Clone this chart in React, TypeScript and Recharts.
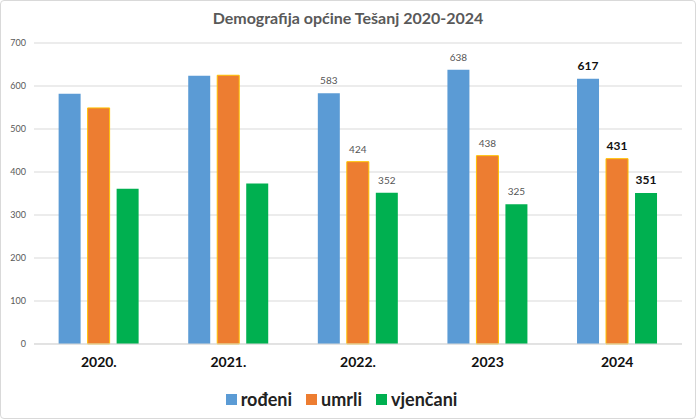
import React from "react";
import {
  BarChart,
  Bar,
  XAxis,
  YAxis,
  CartesianGrid,
  Legend,
  LabelList,
} from "recharts";

const years = ["2020.", "2021.", "2022.", "2023", "2024"];
const rodeni = [582, 624, 583, 638, 617];
const umrli = [549, 625, 424, 438, 431];
const vjencani = [361, 373, 352, 325, 351];
const yTicks = [0, 100, 200, 300, 400, 500, 600, 700];

const data = years.map((y, i) => ({
  year: y,
  rodeni: rodeni[i],
  umrli: umrli[i],
  vjencani: vjencani[i],
}));

const FONT = "Lato, 'Open Sans', sans-serif";

const renderLabel = (props: any) => {
  const { x, y, width, value, index } = props;
  if (index < 2) return null;
  const bold = index === 4;
  return (
    <text
      x={x + width / 2}
      y={y}
      dy={-9}
      textAnchor="middle"
      fontFamily={FONT}
      fontSize={bold ? 12 : 10}
      fontWeight={bold ? 700 : 400}
      fill={bold ? "#111" : "#555"}
    >
      {value}
    </text>
  );
};

const legendItems = [
  { name: "rođeni", color: "#5B9BD5" },
  { name: "umrli", color: "#ED7D31" },
  { name: "vjenčani", color: "#00B050" },
];

const renderLegend = () => (
  <div
    style={{
      display: "flex",
      justifyContent: "center",
      alignItems: "center",
      height: 24,
      fontFamily: FONT,
      fontWeight: 700,
      fontSize: 18,
      color: "#222",
    }}
  >
    {legendItems.map((it) => (
      <span
        key={it.name}
        style={{ display: "flex", alignItems: "center", margin: "0 7px" }}
      >
        <span
          style={{
            width: 11,
            height: 11,
            background: it.color,
            marginRight: 4,
            display: "inline-block",
          }}
        />
        {it.name}
      </span>
    ))}
  </div>
);

const App: React.FC = () => {
  return (
    <div
      style={{
        position: "absolute",
        left: 0,
        top: 0,
        width: 696,
        height: 419,
        background: "#fff",
        boxSizing: "border-box",
        border: "1px solid #d9d9d9",
        borderRadius: 4,
      }}
    >
      <div
        style={{
          position: "absolute",
          top: 7,
          width: "100%",
          textAlign: "center",
          fontFamily: FONT,
          fontWeight: 700,
          fontSize: 16,
          color: "#595959",
        }}
      >
        Demografija općine Tešanj 2020-2024
      </div>
      <BarChart
        width={694}
        height={417}
        data={data}
        margin={{ top: 42, right: 13, left: 0, bottom: 7 }}
        barCategoryGap="19%"
        barGap={7}
      >
        <CartesianGrid vertical={false} stroke="#d9d9d9" />
        <XAxis
          dataKey="year"
          axisLine={{ stroke: "#d9d9d9" }}
          tickLine={false}
          height={43}
          tick={{ fontFamily: FONT, fontSize: 14, fontWeight: 700, fill: "#111" }}
          dy={5}
        />
        <YAxis
          domain={[0, 700]}
          ticks={yTicks}
          axisLine={false}
          tickLine={false}
          width={33}
          tick={{ fontFamily: FONT, fontSize: 9, fill: "#595959" }}
        />
        <Legend verticalAlign="bottom" content={renderLegend} />
        <Bar dataKey="rodeni" name="rođeni" fill="#5B9BD5" isAnimationActive={false}>
          <LabelList dataKey="rodeni" content={renderLabel} />
        </Bar>
        <Bar
          dataKey="umrli"
          name="umrli"
          fill="#ED7D31"
          stroke="#FFC000"
          strokeWidth={1}
          isAnimationActive={false}
        >
          <LabelList dataKey="umrli" content={renderLabel} />
        </Bar>
        <Bar dataKey="vjencani" name="vjenčani" fill="#00B050" isAnimationActive={false}>
          <LabelList dataKey="vjencani" content={renderLabel} />
        </Bar>
      </BarChart>
    </div>
  );
};

export default App;
